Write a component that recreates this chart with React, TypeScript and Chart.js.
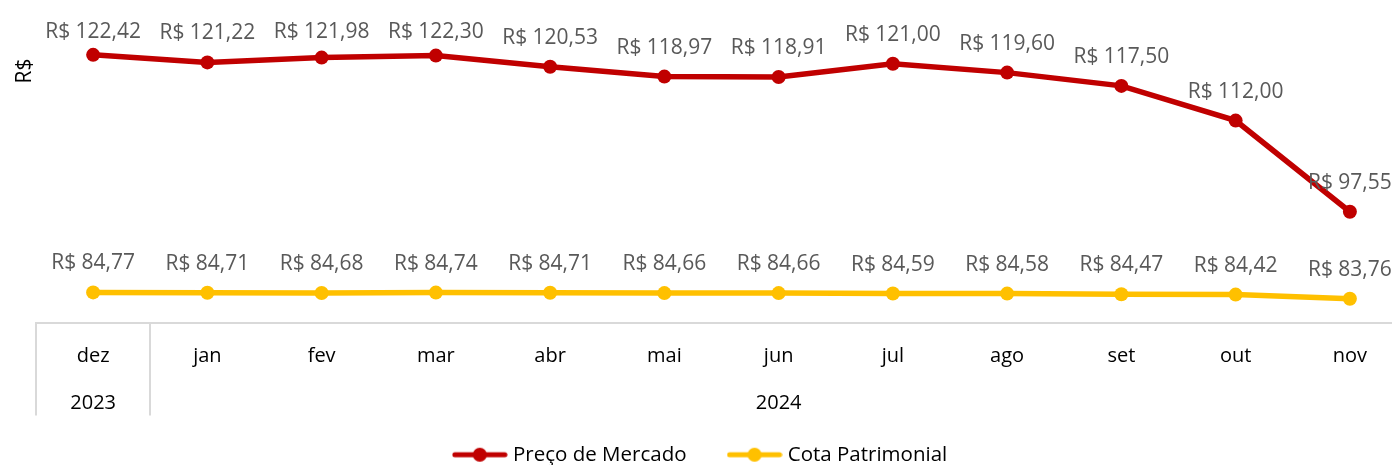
import React, { useEffect, useRef } from 'react';
import { Chart, registerables } from 'chart.js';

Chart.register(...registerables);

const months = ['dez', 'jan', 'fev', 'mar', 'abr', 'mai', 'jun', 'jul', 'ago', 'set', 'out', 'nov'];
const years = ['2023', '2024'];
const yearSpans = [1, 11];
const precoMercado = [122.42, 121.22, 121.98, 122.3, 120.53, 118.97, 118.91, 121.0, 119.6, 117.5, 112.0, 97.55];
const cotaPatrimonial = [84.77, 84.71, 84.68, 84.74, 84.71, 84.66, 84.66, 84.59, 84.58, 84.47, 84.42, 83.76];
const seriesNames = ['Preço de Mercado', 'Cota Patrimonial'];
const seriesColors = ['#C00000', '#FFC000'];
const yAxisTitle = 'R$';
const yMin = 80;
const yMax = 130;

const FONT = '"Open Sans", "DejaVu Sans", sans-serif';

const fmt = (v: number) => 'R$ ' + v.toFixed(2).replace('.', ',');

function makeMarker(color: string): HTMLCanvasElement {
  const c = document.createElement('canvas');
  c.width = 56;
  c.height = 16;
  const g = c.getContext('2d')!;
  g.strokeStyle = color;
  g.lineWidth = 5;
  g.lineCap = 'round';
  g.beginPath();
  g.moveTo(3, 8);
  g.lineTo(53, 8);
  g.stroke();
  g.fillStyle = color;
  g.beginPath();
  g.arc(28, 8, 7, 0, Math.PI * 2);
  g.fill();
  return c;
}

const overlayPlugin = {
  id: 'overlay',
  afterLayout(chart: any) {
    const lg = chart.legend;
    if (lg) {
      lg.left -= 5;
      lg.right -= 5;
    }
  },
  afterDatasetsDraw(chart: any) {
    const ctx = chart.ctx;
    ctx.save();
    ctx.font = `21px ${FONT}`;
    ctx.fillStyle = '#595959';
    ctx.textAlign = 'center';
    ctx.textBaseline = 'middle';
    chart.data.datasets.forEach((ds: any, di: number) => {
      const meta = chart.getDatasetMeta(di);
      meta.data.forEach((el: any, i: number) => {
        const y = Math.max(el.y - 29, 32);
        ctx.fillText(fmt(ds.data[i]), el.x, y);
      });
    });
    ctx.restore();
  },
  afterDraw(chart: any) {
    const ctx = chart.ctx;
    const xs = chart.scales.x;
    ctx.save();
    ctx.strokeStyle = '#d9d9d9';
    ctx.lineWidth = 2;
    ctx.font = `20px ${FONT}`;
    ctx.fillStyle = '#000000';
    ctx.textAlign = 'center';
    ctx.textBaseline = 'middle';
    let idx = 0;
    yearSpans.forEach((span, k) => {
      const start = idx;
      const end = idx + span - 1;
      const left = start === 0
        ? chart.chartArea.left
        : (xs.getPixelForValue(start - 1) + xs.getPixelForValue(start)) / 2;
      ctx.beginPath();
      ctx.moveTo(Math.round(left), xs.top);
      ctx.lineTo(Math.round(left), xs.top + 93);
      ctx.stroke();
      const cx = (xs.getPixelForValue(start) + xs.getPixelForValue(end)) / 2;
      ctx.fillText(years[k], cx, xs.top + 81);
      idx += span;
    });
    // y axis title
    ctx.translate(25, 71);
    ctx.rotate(-Math.PI / 2);
    ctx.font = `21px ${FONT}`;
    ctx.fillText(yAxisTitle, 0, 0);
    ctx.restore();
  },
};

export default function App() {
  const ref = useRef<HTMLCanvasElement>(null);
  useEffect(() => {
    if (!ref.current) return;
    Chart.defaults.font.family = FONT;
    const markers = seriesColors.map(makeMarker);
    const series = [precoMercado, cotaPatrimonial];
    const chart = new Chart(ref.current, {
      type: 'line',
      data: {
        labels: months,
        datasets: series.map((d, i) => ({
          label: seriesNames[i],
          data: d,
          borderColor: seriesColors[i],
          backgroundColor: seriesColors[i],
          borderWidth: 5.5,
          pointRadius: 7,
          pointHoverRadius: 7,
          pointBorderWidth: 0,
          pointBackgroundColor: seriesColors[i],
          tension: 0,
          clip: false as any,
        })),
      },
      options: {
        responsive: false,
        animation: false,
        events: [],
        layout: { padding: { top: 6, left: 0, right: 0, bottom: 0 } },
        plugins: {
          tooltip: { enabled: false },
          legend: {
            position: 'bottom',
            labels: {
              font: { family: FONT, size: 20.5 },
              color: '#000000',
              usePointStyle: true,
              pointStyleWidth: 46,
              padding: 45,
              generateLabels: (ch: any) =>
                ch.data.datasets.map((ds: any, i: number) => ({
                  text: ds.label,
                  pointStyle: markers[i],
                  fillStyle: seriesColors[i],
                  strokeStyle: seriesColors[i],
                  lineWidth: 0,
                  hidden: false,
                  datasetIndex: i,
                  fontColor: '#000000',
                })),
            },
          },
        },
        scales: {
          x: {
            type: 'category',
            offset: true,
            grid: { display: false, drawTicks: false },
            border: { display: true, color: '#d9d9d9', width: 2 },
            ticks: {
              autoSkip: false,
              maxRotation: 0,
              padding: 22,
              color: '#000000',
              font: { family: FONT, size: 20 },
            },
            afterFit: (s: any) => { s.height = 77; },
          },
          y: {
            min: yMin,
            max: yMax,
            grid: { display: false },
            border: { display: false },
            ticks: { display: false },
            afterFit: (s: any) => { s.width = 36; },
          },
        },
      },
      plugins: [overlayPlugin],
    });
    return () => chart.destroy();
  }, []);
  return (
    <div style={{ position: 'fixed', left: 0, top: 0, width: 1392, height: 465, overflow: 'hidden', background: '#fff' }}>
      <canvas ref={ref} width={1414} height={475} style={{ display: 'block' }} />
    </div>
  );
}
